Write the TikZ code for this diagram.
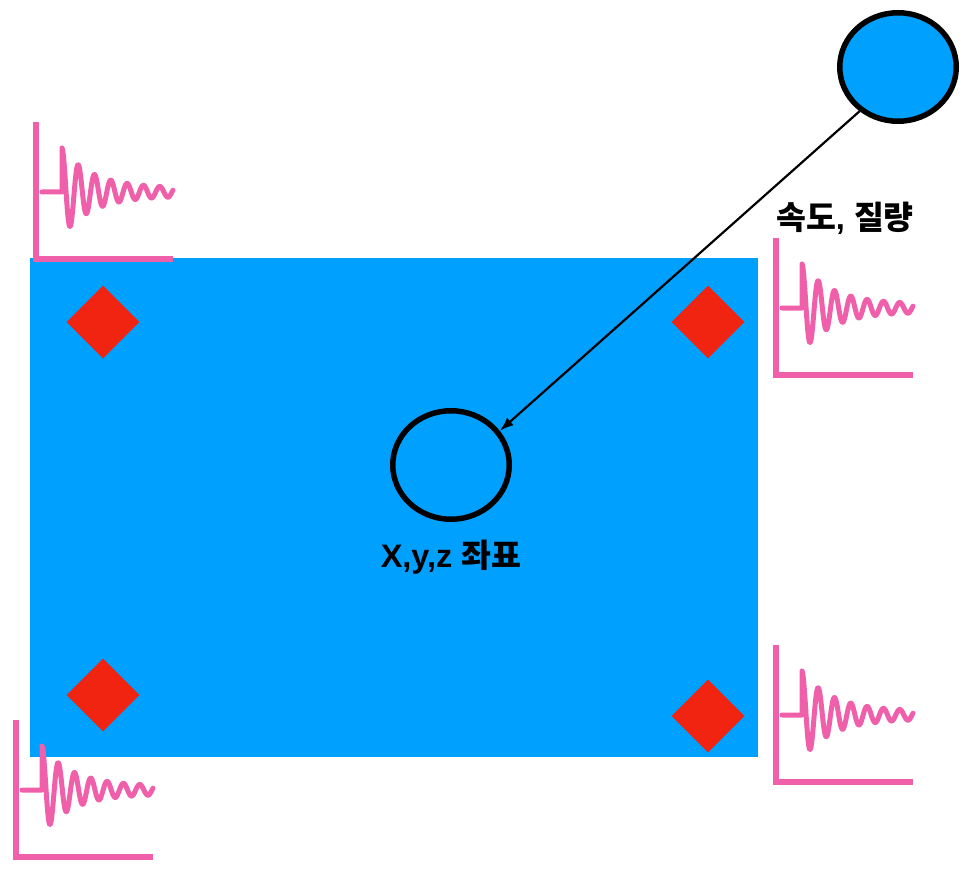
\documentclass[tikz,border=0pt]{standalone}
\usepackage{fontspec}
\newfontfamily\krfont{Noto Sans CJK KR}
\newfontfamily\latfont{Liberation Sans}
\usetikzlibrary{shapes.geometric,arrows.meta}
\definecolor{skyblue}{RGB}{0,160,255}
\definecolor{dred}{RGB}{240,36,16}
\definecolor{wpink}{RGB}{240,96,170}
\newcommand\wavechart[2]{%
  \draw[axisline] (#1,#2-137) -- (#1,#2) -- (#1+137,#2);
  \draw[waveline] (#1+6,#2-67) -- (#1+26,#2-67) -- plot[domain=0:111,samples=300] ({#1+26+\x},{#2-67-(40*exp(-\x/30)+4)*cos(22.0859*\x)});
}
\begin{document}
\begin{tikzpicture}[x=1pt,y=-1pt,
  axisline/.style={draw=wpink,line width=5.5pt,line join=miter},
  waveline/.style={draw=wpink,line width=5pt,line join=round,line cap=round},
  dmd/.style={diamond,shape aspect=1,fill=dred,minimum width=73pt,minimum height=73pt,inner sep=0pt},
  ring/.style={ellipse,draw=black,line width=5.5pt,minimum width=116.5pt,minimum height=108.5pt,inner sep=0pt},
  lbl/.style={font=\fontsize{32.5}{36}\selectfont\bfseries,anchor=base,inner sep=0pt}]
\useasboundingbox (0,0) rectangle (965,874);
\fill[skyblue] (30,258) rectangle (758,757);
\node[dmd] (d1) at (103,322) {};
\node[dmd] (d2) at (708,322) {};
\node[dmd] (d3) at (103,695) {};
\node[dmd] (d4) at (708,716) {};
\wavechart{36}{259}
\wavechart{776}{375}
\wavechart{776}{782}
\wavechart{16}{857}
\node[ring] (inner) at (451,465) {};
\node[ring,fill=skyblue] (top) at (898,67) {};
\draw[line width=2.2pt,-{Latex[length=14pt,width=10pt]}] (top.229) -- (inner.35);
\node[lbl] (lv) at (845,230) {\krfont 속도\latfont, \krfont 질량};
\node[lbl] (lx) at (451,567) {\latfont X,y,z \krfont 좌표};
\end{tikzpicture}
\end{document}
